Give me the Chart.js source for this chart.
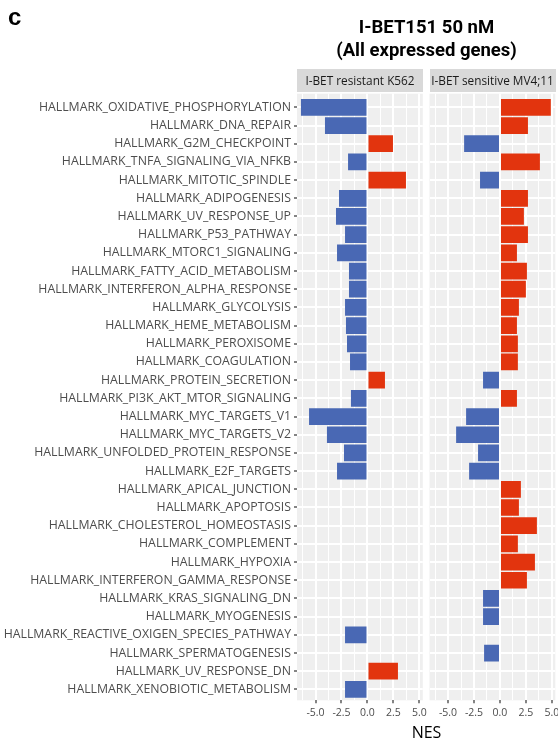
<!DOCTYPE html>
<html>
<head>
<meta charset="utf-8">
<script src="https://cdn.jsdelivr.net/npm/chart.js@4/dist/chart.umd.min.js"></script>
<style>
  html, body { margin: 0; padding: 0; background: #fff; }
  #wrap { position: relative; width: 558px; height: 741px; overflow: hidden; font-family: "Open Sans", sans-serif; }
  #wrap canvas { position: absolute; left: 0; top: 0; }
  .tag { position: absolute; left: 8px; top: 3px; font: bold 24px "Liberation Sans", Arial, sans-serif; color: #000; }
  .title { position: absolute; left: 297px; width: 259px; top: 16px; text-align: center;
           font: 700 18.5px Roboto, sans-serif; line-height: 23px; color: #000; }
  .strip { position: absolute; top: 69px; height: 23px; background: #D9D9D9; color: #1A1A1A;
           font-size: 11.8px; line-height: 23px; text-align: center; white-space: nowrap; overflow: hidden; }
  .xtitle { position: absolute; top: 722px; left: 297px; width: 259px; text-align: center;
            font-size: 16px; line-height: 20px; color: #000; }
</style>
</head>
<body>
<div id="wrap">
  <canvas id="k562" width="558" height="741" style="width:558px;height:741px"></canvas>
  <canvas id="mv411" width="558" height="741" style="width:558px;height:741px"></canvas>
  <div class="tag">c</div>
  <div class="title">I-BET151 50 nM<br>(All expressed genes)</div>
  <div class="strip" style="left:297px;width:126px">I-BET resistant K562</div>
  <div class="strip" style="left:429.5px;width:126px">I-BET sensitive MV4;11</div>
  <div class="xtitle">NES</div>
</div>
<script>
// Hallmark gene sets, top to bottom
const pathways = [
  "HALLMARK_OXIDATIVE_PHOSPHORYLATION",
  "HALLMARK_DNA_REPAIR",
  "HALLMARK_G2M_CHECKPOINT",
  "HALLMARK_TNFA_SIGNALING_VIA_NFKB",
  "HALLMARK_MITOTIC_SPINDLE",
  "HALLMARK_ADIPOGENESIS",
  "HALLMARK_UV_RESPONSE_UP",
  "HALLMARK_P53_PATHWAY",
  "HALLMARK_MTORC1_SIGNALING",
  "HALLMARK_FATTY_ACID_METABOLISM",
  "HALLMARK_INTERFERON_ALPHA_RESPONSE",
  "HALLMARK_GLYCOLYSIS",
  "HALLMARK_HEME_METABOLISM",
  "HALLMARK_PEROXISOME",
  "HALLMARK_COAGULATION",
  "HALLMARK_PROTEIN_SECRETION",
  "HALLMARK_PI3K_AKT_MTOR_SIGNALING",
  "HALLMARK_MYC_TARGETS_V1",
  "HALLMARK_MYC_TARGETS_V2",
  "HALLMARK_UNFOLDED_PROTEIN_RESPONSE",
  "HALLMARK_E2F_TARGETS",
  "HALLMARK_APICAL_JUNCTION",
  "HALLMARK_APOPTOSIS",
  "HALLMARK_CHOLESTEROL_HOMEOSTASIS",
  "HALLMARK_COMPLEMENT",
  "HALLMARK_HYPOXIA",
  "HALLMARK_INTERFERON_GAMMA_RESPONSE",
  "HALLMARK_KRAS_SIGNALING_DN",
  "HALLMARK_MYOGENESIS",
  "HALLMARK_REACTIVE_OXIGEN_SPECIES_PATHWAY",
  "HALLMARK_SPERMATOGENESIS",
  "HALLMARK_UV_RESPONSE_DN",
  "HALLMARK_XENOBIOTIC_METABOLISM"
];

// Normalised enrichment scores (null = not significant in that line)
const nesK562 = [
  -6.40, -4.09, 2.45, -1.87, 3.70, -2.74, -3.03, -2.16, -2.93, -1.78,
  -1.78, -2.16, -2.07, -1.97, -1.68, 1.68, -1.59, -5.62, -3.90, -2.26,
  -2.93, null, null, null, null, null, null, null, null, -2.16,
  null, 2.93, -2.16
];
const nesMV411 = [
  4.89, 2.69, -3.45, 3.84, -1.92, 2.69, 2.30, 2.69, 1.63, 2.59,
  2.49, 1.82, 1.63, 1.72, 1.72, -1.63, 1.63, -3.26, -4.22, -2.11,
  -2.97, 2.01, 1.82, 3.55, 1.72, 3.36, 2.59, -1.63, -1.63, null,
  -1.53, null, null
];

// x axis: labelled ticks and the minor grid positions between them
const majorTicks = [-5, -2.5, 0, 2.5, 5];
const minorTicks = [-6.25, -3.75, -1.25, 1.25, 3.75];
const xLimits = [-6.78, 5.32];

const UP = '#E2340E';
const DOWN = '#4968B4';
const PANEL_BG = '#EFEFEF';

const isMajor = v => v != null && majorTicks.some(m => Math.abs(m - v) < 1e-9);

const panelBackground = {
  id: 'panelBackground',
  beforeDraw(chart) {
    const { ctx, chartArea: a } = chart;
    ctx.save();
    ctx.fillStyle = PANEL_BG;
    ctx.fillRect(a.left, a.top, a.right - a.left, a.bottom - a.top);
    ctx.restore();
  }
};

function facet(canvasId, values, areaLeft, areaRight, withLabels) {
  return new Chart(document.getElementById(canvasId), {
    type: 'bar',
    data: {
      labels: pathways,
      datasets: [{
        data: values,
        backgroundColor: c => (c.raw < 0 ? DOWN : UP),
        borderWidth: 0,
        barPercentage: 0.92,
        categoryPercentage: 1
      }]
    },
    options: {
      indexAxis: 'y',
      responsive: false,
      animation: false,
      devicePixelRatio: 1,
      layout: { padding: { top: 93.7, bottom: 10.7, left: 0, right: 558 - areaRight } },
      plugins: { legend: { display: false }, tooltip: { enabled: false } },
      scales: {
        x: {
          type: 'linear',
          min: xLimits[0],
          max: xLimits[1],
          afterBuildTicks: s => {
            s.ticks = majorTicks.concat(minorTicks).sort((a, b) => a - b).map(v => ({ value: v }));
          },
          afterFit: s => { s.height = 30; s.paddingLeft = 0; s.paddingRight = 0; },
          border: { display: false },
          grid: {
            color: '#FFFFFF',
            lineWidth: c => (isMajor(c.tick && c.tick.value) ? 2 : 1),
            tickColor: c => (isMajor(c.tick && c.tick.value) ? '#333333' : 'rgba(0,0,0,0)'),
            tickLength: 3,
            tickWidth: 1.2
          },
          ticks: {
            autoSkip: false,
            maxRotation: 0,
            padding: 3,
            color: '#4D4D4D',
            font: { family: '"Open Sans", sans-serif', size: 10.5 },
            callback: v => (isMajor(v) ? v.toFixed(1) : '')
          }
        },
        y: {
          type: 'category',
          // ggplot-style discrete expansion around the first and last rows
          afterBuildTicks: s => { s._startValue -= 0.25; s._valueRange += 0.35; },
          afterFit: s => { s.width = areaLeft; s.paddingTop = 0; s.paddingBottom = 0; },
          border: { display: false },
          grid: {
            offset: false,
            color: '#FFFFFF',
            lineWidth: 2,
            drawTicks: withLabels,
            tickColor: '#333333',
            tickLength: 3,
            tickWidth: 1.2
          },
          ticks: {
            display: withLabels,
            autoSkip: false,
            padding: 3,
            color: '#4D4D4D',
            font: { family: '"Open Sans", sans-serif', size: 12.3 }
          }
        }
      }
    },
    plugins: [panelBackground]
  });
}

facet('k562', nesK562, 297, 422.8, true);
facet('mv411', nesMV411, 429.5, 555.3, false);
</script>
</body>
</html>
